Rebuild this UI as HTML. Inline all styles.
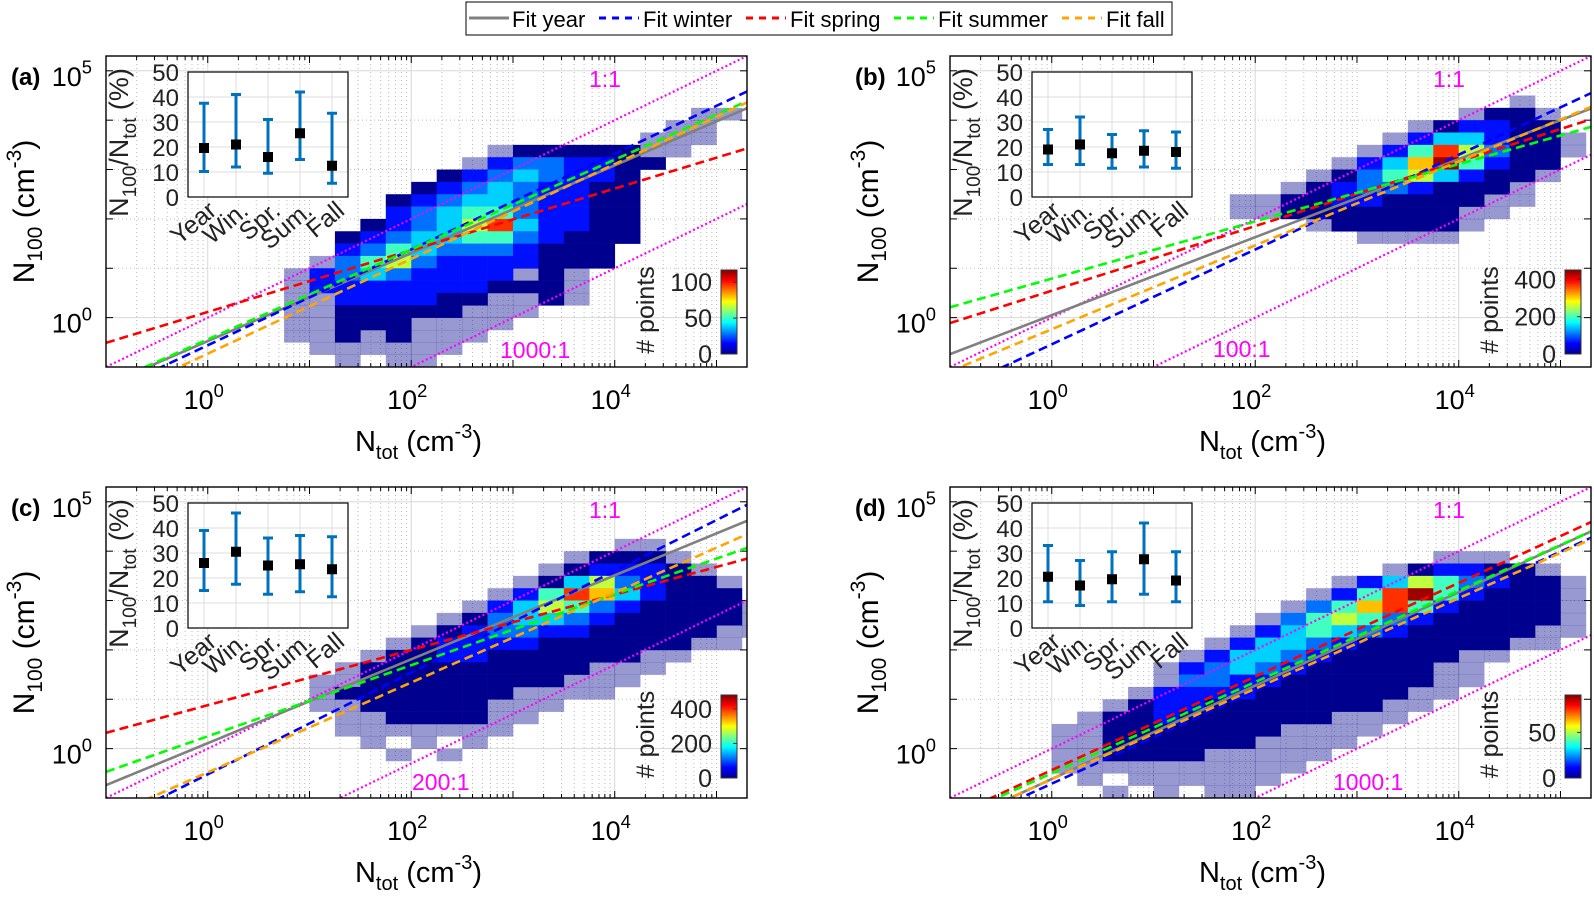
<!DOCTYPE html>
<html><head><meta charset="utf-8">
<style>
html,body{margin:0;padding:0;background:#fff;}
svg{display:block;font-family:"Liberation Sans",Arial,sans-serif;}
</style></head>
<body>
<svg id="fig" width="1594" height="901" viewBox="0 0 1594 901" xmlns="http://www.w3.org/2000/svg">
<defs>
<linearGradient id="jet" x1="0" y1="1" x2="0" y2="0">
<stop offset="0" stop-color="#00008f"/><stop offset="0.125" stop-color="#0000ff"/>
<stop offset="0.375" stop-color="#00ffff"/><stop offset="0.625" stop-color="#ffff00"/>
<stop offset="0.875" stop-color="#ff0000"/><stop offset="1" stop-color="#800000"/>
</linearGradient>
</defs>
<g>
<rect x="466" y="2" width="706" height="33" fill="#fff" stroke="#000" stroke-width="1"/>
<line x1="469" y1="18" x2="509" y2="18" stroke="#808080" stroke-width="3"/>
<text x="512" y="27" font-size="22">Fit year</text>
<line x1="599" y1="18" x2="639" y2="18" stroke="#0000ff" stroke-width="3" stroke-dasharray="7,6"/>
<text x="643" y="27" font-size="22">Fit winter</text>
<line x1="746" y1="18" x2="786" y2="18" stroke="#ff0000" stroke-width="3" stroke-dasharray="7,6"/>
<text x="790" y="27" font-size="22">Fit spring</text>
<line x1="894" y1="18" x2="934" y2="18" stroke="#00ff00" stroke-width="3" stroke-dasharray="7,6"/>
<text x="938" y="27" font-size="22">Fit summer</text>
<line x1="1062" y1="18" x2="1102" y2="18" stroke="#ffa500" stroke-width="3" stroke-dasharray="7,6"/>
<text x="1106" y="27" font-size="22">Fit fall</text>
</g>
</svg>
<script>
// ---------- data ----------
const panelIds = ['a','b','c','d'];
const fitNames = ['year','winter','spring','summer','fall'];
// intercept and slope of log10 fits (log N100 = a + b log Ntot)
const fitInterceptA = [-0.475,-0.56,0.115,-0.44,-0.73];
const fitSlopeA     = [0.89,0.97,0.625,0.91,0.96];
const fitInterceptB = [0.05,-0.54,0.545,0.79,-0.235];
const fitSlopeB     = [0.79,0.96,0.655,0.58,0.85];
const fitInterceptC = [0.11,-0.52,0.88,0.25,-0.48];
const fitSlopeC     = [0.85,1.03,0.56,0.72,0.91];
const fitInterceptD = [-0.615,-0.71,-0.435,-0.5,-0.62];
const fitSlopeD     = [0.946,0.94,0.948,0.925,0.917];
const ratioOffsets = [3,2,2.3,3];
const ratioLabels = ['1000:1','100:1','200:1','1000:1'];
const categories = ['Year','Win.','Spr.','Sum.','Fall'];
const meanA=[19.6,21,16,25.5,12.5], loA=[10.2,12,9.5,15,5.5], hiA=[37.5,41,31,42,33.5];
const meanB=[19,21,17.5,18.5,18], loB=[13,13,11.5,12,11.5], hiB=[27,32,25,26.5,26];
const meanC=[26,30.5,25,25.5,23.5], loC=[15,17.5,13.5,14.5,12.5], hiC=[39,46,36,37,36.5];
const meanD=[20.5,17,19.5,27.5,19], loD=[10.5,9,10.5,13.5,10.5], hiD=[33,27,30.5,42,30.5];
const cbarMax=[117,450,480,91];
const cbarTicksA=[0,50,100], cbarTicksB=[0,200,400], cbarTicksC=[0,200,400], cbarTicksD=[0,50];
const xTickExp=[0,2,4], yTickExp=[0,5];
// 2D histogram: rows top (log y 4.25-4.5) downward in 0.25-decade steps; "startCol:levels"
// column k covers log x [-1+0.25k, -0.75+0.25k]; a = sparse, 1..9 = count level
const heatA=["","23:aa","22:aa","21:aaa","15:a11111aa","14:a2332211","13:12343221","12:123432211","11:1234432211","11:2345532211","10:12346842211","9:123445532111","9:23543332111","8:a35632222111","7:a23432222a1a","7:a2222222111a","7:aa222211aa1a","7:aa11111aaa","7:aa111aaaa","7:aa1a1aaa","8:aaaaaa","9:a.aa"];
const heatB=["22:a","20:a11a","18:a12211","17:a244211a","16:a2586311a","15:a24795211","14:a13564211a","13:a12332111a","11:aa11221111aa","11:aa1111111aa","14:a11111a","16:aaaa","","","","","","","","","",""];
const heatC=["","20:aa","18:a111a","17:a12221a","16:a1463211a","15:a258742111","14:a2465321111a","13:a13443211111a","12:a12332211111aa","11:a12222111111aa","10:a1122111111aa","9:a111111111aaa","8:aa11111111aaa","8:a1111111aaaa","8:aa11111aaa","9:aa1111aa","9:aaaaaaa","10:a.a.a","11:a.a","","",""];
const heatD=["","","19:aaa","17:a12211a","15:a24653211a","14:a258952111a","13:a3578521111a","12:a35653211111a","11:a24543211111aa","10:a24432111111aa","9:a2443211111aa","8:a2343211111aa","8:a3322111111aa","7:a2222111111aa","6:a1221111111aa","5:a112111111aaa","4:aa1111111aaaa","4:aa111111aaaa","4:aa1111aaaaa","4:aaaaaaaaaa","5:a.aaaaaa","6:a.a.aa"];

// ---------- drawing ----------
const NS='http://www.w3.org/2000/svg';
const svg=document.getElementById('fig');
function mk(tag,attrs,parent){const e=document.createElementNS(NS,tag);for(const k in attrs)e.setAttribute(k,attrs[k]);(parent||svg).appendChild(e);return e;}
const levelColors={'1':'#00008f','2':'#0010ff','3':'#0070ff','4':'#00d0ff','5':'#40ffc0','6':'#c0ff40','7':'#ffc000','8':'#ff3000','9':'#a00000','a':'#00008f'};
const PW=641, PH=311, XMIN=-1, XMAX=5.3, YMIN=-1, YMAX=5.3;
const layout=[{L:106,T:56},{L:950,T:56},{L:106,T:487},{L:950,T:487}];
const fits=[[fitInterceptA,fitSlopeA],[fitInterceptB,fitSlopeB],[fitInterceptC,fitSlopeC],[fitInterceptD,fitSlopeD]];
const insets=[[meanA,loA,hiA],[meanB,loB,hiB],[meanC,loC,hiC],[meanD,loD,hiD]];
const heats=[heatA,heatB,heatC,heatD];
const cbTicks=[cbarTicksA,cbarTicksB,cbarTicksC,cbarTicksD];
const cbPos=[[97,13],[97,13],[103,20],[103,20]];
const ratioPos=[[394,-9],[263,-10],[306,-8],[383,-8]];
const fitColors=['#808080','#0000ff','#ff0000','#00ff00','#ffa500'];

function supText(parent,x,y,base,sup,size,anchor){
  const t=mk('text',{x:x,y:y,'font-size':size,'text-anchor':anchor||'middle',fill:'#000'},parent);
  t.appendChild(document.createTextNode(base));
  const s=mk('tspan',{dy:-size*0.45,'font-size':size*0.68},t);s.textContent=sup;
  return t;
}

panelIds.forEach((pid,p)=>{
  const {L,T}=layout[p]; const B=T+PH, R=L+PW;
  const sx=v=>L+(v-XMIN)/(XMAX-XMIN)*PW;
  const sy=v=>B-(v-YMIN)/(YMAX-YMIN)*PH;
  const g=mk('g',{});
  
  
  const clip=mk('clipPath',{id:'clip'+pid},g);
  mk('rect',{x:L,y:T,width:PW,height:PH},clip);
  // grid
  const grid=mk('g',{},g);
  
  
  for(let d=-1;d<=5;d++){
    for(let m=1;m<10;m++){
      const v=d+Math.log10(m); if(v<XMIN||v>XMAX) continue;
      const x=sx(v);
      if(m===1&&d%2===0){mk('line',{x1:x,y1:T,x2:x,y2:B,stroke:'#d8d8d8','stroke-width':1},grid);}
      else mk('line',{x1:x,y1:T,x2:x,y2:B,stroke:'#bbb','stroke-width':1,'stroke-dasharray':'1,3'},grid);
      mk('line',{x1:x,y1:B,x2:x,y2:B-(m===1?7:4),stroke:'#000','stroke-width':1},grid);
      mk('line',{x1:x,y1:T,x2:x,y2:T+(m===1?7:4),stroke:'#000','stroke-width':1},grid);
    }
    const y=sy(d);
    if(d===0||d===5) mk('line',{x1:L,y1:y,x2:R,y2:y,stroke:'#d8d8d8','stroke-width':1},grid);
    else if(d>-1) mk('line',{x1:L,y1:y,x2:R,y2:y,stroke:'#bbb','stroke-width':1,'stroke-dasharray':'1,3'},grid);
    if(d>-1){mk('line',{x1:L,y1:y,x2:L+7,y2:y,stroke:'#000'},grid);mk('line',{x1:R,y1:y,x2:R-7,y2:y,stroke:'#000'},grid);}
  }
  // heatmap
  const hm=mk('g',{'clip-path':'url(#clip'+pid+')'},g);
  
  
  heats[p].forEach((row,i)=>{
    if(!row) return;
    const [k0s,lv]=row.split(':'); const k0=+k0s;
    const yTop=4.5-0.25*i;
    for(let j=0;j<lv.length;j++){
      const c=lv[j]; if(c==='.') continue;
      const lx=-1+0.25*(k0+j);
      const r=mk('rect',{x:sx(lx),y:sy(yTop),width:sx(lx+0.25)-sx(lx)+0.3,height:sy(yTop-0.25)-sy(yTop)+0.3,fill:levelColors[c],opacity:c==='a'?0.4:1},hm);
      
      
    }
  });
  // ratio lines
  const lines=mk('g',{'clip-path':'url(#clip'+pid+')'},g);
  [0,ratioOffsets[p]].forEach((off,q)=>{
    const l=mk('line',{x1:sx(XMIN),y1:sy(XMIN-off),x2:sx(XMAX),y2:sy(XMAX-off),stroke:'#ff00ff','stroke-width':2.2,'stroke-dasharray':'2,2.5'},lines);
    
    
  });
  // fits
  const [ints,slopes]=fits[p];
  fitNames.forEach((fn,f)=>{
    const a=ints[f], b=slopes[f];
    const attrs={x1:sx(XMIN),y1:sy(a+b*XMIN),x2:sx(XMAX),y2:sy(a+b*XMAX),stroke:fitColors[f],'stroke-width':2.6};
    if(f>0) attrs['stroke-dasharray']='9,5';
    const l=mk('line',attrs,lines);
    
    
  });
  // ratio labels
  const t1=mk('text',{x:L+499,y:T+31,'font-size':23,fill:'#ff00ff','text-anchor':'middle'},g);
  t1.textContent='1:1';
  
  
  const t2=mk('text',{x:L+ratioPos[p][0],y:B+ratioPos[p][1],'font-size':23,fill:'#ff00ff'},g);
  t2.textContent=ratioLabels[p];
  
  
  // axes box
  const box=mk('rect',{x:L,y:T,width:PW,height:PH,fill:'none',stroke:'#000','stroke-width':1.4},g);
  
  
  // tick labels
  xTickExp.forEach(e=>{const t=supText(g,sx(e)-4,B+42,'10',String(e),27);
    
    });
  yTickExp.forEach(e=>{const t=supText(g,L-14,sy(e)+15,'10',String(e),27,'end');
    
    });
  // axis titles
  const xt=mk('text',{x:(L+R)/2-8,y:B+84,'font-size':29,'text-anchor':'middle'},g);
  xt.innerHTML='N<tspan dy="8" font-size="20">tot</tspan><tspan dy="-8"> (cm</tspan><tspan dy="-13" font-size="20">-3</tspan><tspan dy="13">)</tspan>';
  
  
  const yt=mk('text',{x:0,y:0,'font-size':30,'text-anchor':'middle',transform:`translate(${L-72},${(T+B)/2}) rotate(-90)`},g);
  yt.innerHTML='N<tspan dy="8" font-size="21">100</tspan><tspan dy="-8"> (cm</tspan><tspan dy="-13" font-size="21">-3</tspan><tspan dy="13">)</tspan>';
  
  
  const pl=mk('text',{x:L-95,y:T+29,'font-size':24,'font-weight':'bold'},g);
  pl.textContent='('+pid+')';
  
  
  // inset
  const IL=L+82, IR=L+242, IT=T+16, IB=T+141;
  const ix=v=>IL+(v-0.5)/5*(IR-IL);
  const iy=v=>IB-v/50*(IB-IT);
  const ins=mk('g',{},g);
  
  
  mk('rect',{x:IL,y:IT,width:IR-IL,height:IB-IT,fill:'#fff'},ins);
  [10,20,30,40].forEach(v=>mk('line',{x1:IL,y1:iy(v),x2:IR,y2:iy(v),stroke:'#ddd'},ins));
  categories.forEach((c,i)=>mk('line',{x1:ix(i+1),y1:IT,x2:ix(i+1),y2:IB,stroke:'#ddd'},ins));
  mk('rect',{x:IL,y:IT,width:IR-IL,height:IB-IT,fill:'none',stroke:'#000','stroke-width':1.2},ins);
  [0,10,20,30,40,50].forEach(v=>{const t=mk('text',{x:IL-9,y:iy(v)+9,'font-size':24,'text-anchor':'end',fill:'#222'},ins);t.textContent=String(v);
    
    });
  const iyt=mk('text',{x:0,y:0,'font-size':27,'text-anchor':'middle',fill:'#222',transform:`translate(${IL-60},${(IT+IB)/2+8}) rotate(-90)`},ins);
  iyt.innerHTML='N<tspan dy="8" font-size="19">100</tspan><tspan dy="-8">/N</tspan><tspan dy="8" font-size="19">tot</tspan><tspan dy="-8"> (%)</tspan>';
  
  
  const [mean,lo,hi]=insets[p];
  categories.forEach((c,i)=>{
    const x=ix(i+1);
    const eb=mk('g',{},ins);
    
    
    mk('line',{x1:x,y1:iy(lo[i]),x2:x,y2:iy(hi[i]),stroke:'#0072bd','stroke-width':3},eb);
    mk('line',{x1:x-5,y1:iy(lo[i]),x2:x+5,y2:iy(lo[i]),stroke:'#0072bd','stroke-width':3},eb);
    mk('line',{x1:x-5,y1:iy(hi[i]),x2:x+5,y2:iy(hi[i]),stroke:'#0072bd','stroke-width':3},eb);
    mk('rect',{x:x-5,y:iy(mean[i])-5,width:10,height:10,fill:'#000'},eb);
    const t=mk('text',{x:0,y:0,'font-size':25,'text-anchor':'end',fill:'#222',transform:`translate(${x+14},${IB+16}) rotate(-40)`},ins);
    t.textContent=c;
    
    
  });
  // colorbar
  const [cbT,cbB]=cbPos[p];
  const cy0=B-cbB, cy1=B-cbT;
  const cb=mk('g',{},g);
  
  
  mk('rect',{x:L+615,y:cy1,width:16,height:cy0-cy1,fill:'url(#jet)',stroke:'#333','stroke-width':1},cb);
  cbTicks[p].forEach(v=>{const y=cy0-v/cbarMax[p]*(cy0-cy1);
    mk('line',{x1:L+631,y1:y,x2:L+627,y2:y,stroke:'#333'},cb);
    const t=mk('text',{x:L+606,y:y+9,'font-size':25,'text-anchor':'end',fill:'#222'},cb);t.textContent=String(v);
    
    });
  const cbl=mk('text',{x:0,y:0,'font-size':25,'text-anchor':'middle',fill:'#222',transform:`translate(${L+548},${(cy0+cy1)/2-2}) rotate(-90)`},cb);
  cbl.textContent='# points';
  
  
});
</script>
</body></html>
